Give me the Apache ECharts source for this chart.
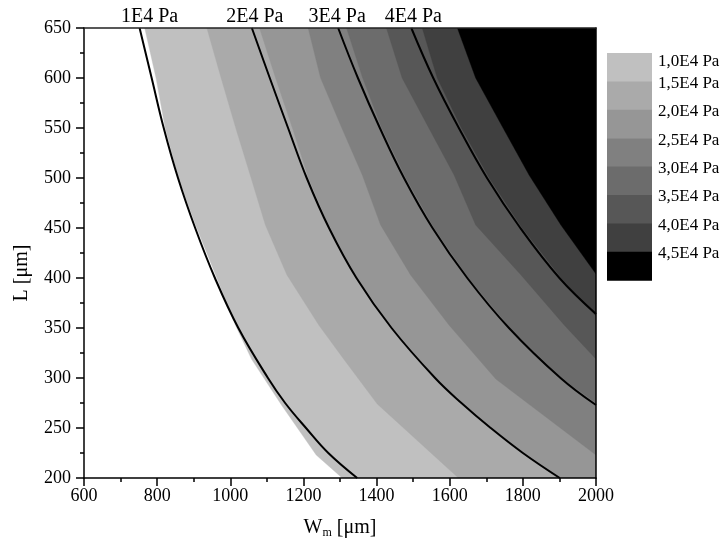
<!DOCTYPE html>
<html><head><meta charset="utf-8">
<script src="https://cdn.jsdelivr.net/npm/echarts@6/dist/echarts.min.js"></script>
<style>html,body{margin:0;padding:0;background:#fff}#c{width:722px;height:547px}</style>
</head><body><div id="c"></div>
<script>
// ---- tick labels ----
const xTickLabels = [600, 800, 1000, 1200, 1400, 1600, 1800, 2000];
const yTickLabels = [200, 250, 300, 350, 400, 450, 500, 550, 600, 650];

// ---- filled contour levels (legend) ----
const levelNames = ['1,0E4 Pa', '1,5E4 Pa', '2,0E4 Pa', '2,5E4 Pa', '3,0E4 Pa', '3,5E4 Pa', '4,0E4 Pa', '4,5E4 Pa'];
const levelColors = ['#c0c0c0', '#aaaaaa', '#969696', '#808080', '#6c6c6c', '#575757', '#404040', '#000000'];

// ---- lower-left boundary of each filled level, [W_m, L] ----
const fill10 = [[766,650],[797,600],[822,550],[858,500],[905,453],[960,403],[1014,353],[1058,319],[1140,273],[1235,223],[1306,200]];
const fill15 = [[936,650],[975,600],[1015,550],[1057,500],[1096,453],[1155,403],[1242,353],[1310,319],[1402,274],[1624,200]];
const fill20 = [[1080,650],[1124,600],[1170,550],[1214,500],[1272,450],[1347,400],[1444,350],[1562,300],[1637,275],[1715,250],[1800,225],[1895,200]];
const fill25 = [[1213,650],[1247,600],[1305,550],[1361,503],[1411,453],[1493,403],[1598,353],[1726,299],[2000,223]];
const fill30 = [[1318,650],[1362,600],[1414,550],[1480,500],[1557,450],[1651,400],[1765,350],[1905,300],[2000,275]];
const fill35 = [[1427,650],[1470,600],[1543,550],[1612,503],[1671,453],[1795,403],[1913,353],[2000,319]];
const fill40 = [[1525,650],[1566,600],[1632,550],[1708,500],[1798,450],[1905,400],[2000,362]];
const fill45 = [[1621,650],[1671,600],[1746,550],[1817,503],[1904,453],[2000,404]];
const fillBounds = [fill10, fill15, fill20, fill25, fill30, fill35, fill40, fill45];

// ---- black contour lines, [W_m, L] ----
const lineNames = ['1E4 Pa', '2E4 Pa', '3E4 Pa', '4E4 Pa'];
const line1E4 = [[752,650],[785,600],[818,550],[857,500],[904,450],[958,400],[1022,350],[1103,300],[1150,275],[1207,250],[1268,225],[1347,200]];
const line2E4 = [[1059,650],[1108,600],[1158,550],[1209,500],[1270,450],[1345,400],[1441,350],[1560,300],[1632,275],[1712,250],[1800,225],[1901,200]];
const line3E4 = [[1295,650],[1349,600],[1409,550],[1475,500],[1553,450],[1648,400],[1762,350],[1903,300],[2000,273]];
const line4E4 = [[1495,650],[1555,600],[1625,550],[1702,500],[1793,450],[1900,400],[2000,364]];
const contourLines = [line1E4, line2E4, line3E4, line4E4];

const xMin = xTickLabels[0], xMax = xTickLabels[xTickLabels.length - 1], xStep = xTickLabels[1] - xTickLabels[0];
const yMin = yTickLabels[0], yMax = yTickLabels[yTickLabels.length - 1], yStep = yTickLabels[1] - yTickLabels[0];
const FONT = '"Liberation Serif", "Times New Roman", serif';

const chart = echarts.init(document.getElementById('c'), null, {renderer: 'canvas'});

function bandSeries(i) {
  const pts = fillBounds[i];
  return {
    type: 'custom', name: levelNames[i], coordinateSystem: 'cartesian2d',
    clip: true, silent: true, z: 2, animation: false,
    data: pts,
    renderItem: function (params, api) {
      if (params.dataIndex !== 0) return null;
      const poly = pts.slice();
      const last = poly[poly.length - 1];
      if (last[1] <= yMin) poly.push([xMax, yMin]);
      poly.push([xMax, yMax]);
      return {
        type: 'polygon',
        shape: {points: poly.map(function (p) { return api.coord(p); })},
        style: {fill: levelColors[i], stroke: levelColors[i], lineWidth: 0.4}
      };
    }
  };
}

function lineSeries(i) {
  return {
    type: 'line', name: lineNames[i], data: contourLines[i],
    showSymbol: false, smooth: 0.4, clip: true, silent: true, z: 3, animation: false,
    lineStyle: {color: '#000', width: 2}
  };
}

const axisCommon = {
  z: 10,
  axisLine: {show: true, onZero: false, lineStyle: {color: '#000', width: 1.5}},
  axisTick: {show: true, inside: false, length: 8, lineStyle: {color: '#000', width: 1.5}},
  minorTick: {show: true, splitNumber: 2, length: 4, lineStyle: {color: '#000', width: 1.5}},
  splitLine: {show: false},
  axisLabel: {color: '#000', fontFamily: FONT, fontSize: 18, formatter: function (v) { return String(v); }}
};

chart.setOption({
  animation: false,
  backgroundColor: '#fff',
  grid: {left: 84, right: 126, top: 28, bottom: 69, containLabel: false},
  xAxis: [
    Object.assign({}, axisCommon, {
      type: 'value', min: xMin, max: xMax, interval: xStep, position: 'bottom',
      axisLabel: Object.assign({}, axisCommon.axisLabel, {margin: 9}),
      name: '{n|W}{s|m}{n| [μm]}', nameLocation: 'middle', nameGap: 39,
      nameTextStyle: {rich: {
        n: {fontFamily: FONT, fontSize: 20, color: '#000'},
        s: {fontFamily: FONT, fontSize: 12, color: '#000', verticalAlign: 'bottom', padding: [10, 0, 0, 0]}
      }}
    }),
    {type: 'value', min: xMin, max: xMax, position: 'top', z: 10,
     axisLine: {show: true, onZero: false, lineStyle: {color: '#222', width: 1.5}},
     axisTick: {show: false}, axisLabel: {show: false}, splitLine: {show: false}}
  ],
  yAxis: [
    Object.assign({}, axisCommon, {
      type: 'value', min: yMin, max: yMax, interval: yStep, position: 'left',
      axisLabel: Object.assign({}, axisCommon.axisLabel, {margin: 13}),
      name: 'L [μm]', nameLocation: 'middle', nameGap: 52, nameRotate: 90,
      nameTextStyle: {fontFamily: FONT, fontSize: 20, color: '#000', padding: [0, 40, 0, 0]}
    }),
    {type: 'value', min: yMin, max: yMax, position: 'right', z: 10,
     axisLine: {show: true, onZero: false, lineStyle: {color: '#000', width: 1.5}},
     axisTick: {show: false}, axisLabel: {show: false}, splitLine: {show: false}}
  ],
  series: fillBounds.map(function (_, i) { return bandSeries(i); })
    .concat(contourLines.map(function (_, i) { return lineSeries(i); }))
});

// legend (swatches + level labels) and contour line labels
const legX = 607, legTop = 53, legW = 45, legH = 28.4;
const graphics = [];
levelNames.forEach(function (name, i) {
  graphics.push({type: 'rect', silent: true, z: 20,
    shape: {x: legX, y: legTop + i * legH, width: legW, height: legH + 0.6},
    style: {fill: levelColors[i]}});
  graphics.push({type: 'text', silent: true, z: 20,
    x: legX + legW + 6, y: Math.max(legTop + i * legH + 2, legTop + 9),
    style: {text: name, font: '17px ' + FONT, fill: '#000', align: 'left', verticalAlign: 'middle'}});
});
const labelDx = [10, 3, -1, 2];
contourLines.forEach(function (ln, i) {
  const p = chart.convertToPixel({gridIndex: 0}, ln[0]);
  graphics.push({type: 'text', silent: true, z: 20,
    x: p[0] + labelDx[i], y: p[1] - 11,
    style: {text: lineNames[i], font: '20px ' + FONT, fill: '#000', align: 'center', verticalAlign: 'middle'}});
});
chart.setOption({graphic: graphics});
</script>
</body></html>
